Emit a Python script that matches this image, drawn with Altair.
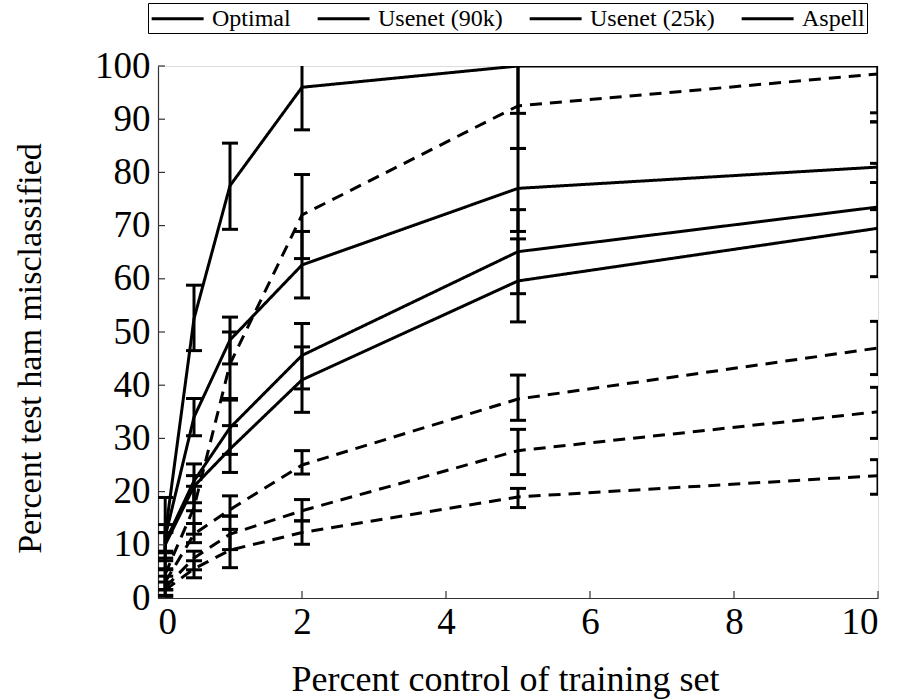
import altair as alt
import pandas as pd

# ---- data ----
XS = [0.1, 0.5, 1, 2, 5, 10]
NAMES = ["Optimal", "Usenet (90k)", "Usenet (25k)", "Aspell"]

# solid series (mean, low, high)
opt_s = [12, 52.5, 77.5, 96, 100, 100]
opt_s_lo = [5.5, 46.5, 69.3, 88, 91.1, 91.2]
opt_s_hi = [18.9, 58.8, 85.5, 104, 109, 109]

u90_s = [11.5, 34, 48.5, 62.6, 77, 81]
u90_s_lo = [8.8, 30.5, 44, 56.4, 68.9, 73]
u90_s_hi = [13.8, 37.5, 52.8, 68.9, 84.5, 89.5]

u25_s = [10.5, 22, 32, 45.6, 65.1, 73.5]
u25_s_lo = [8.5, 17.9, 27, 39.3, 57.2, 65.1]
u25_s_hi = [12.3, 25.2, 37.2, 51.6, 73, 81.7]

asp_s = [10, 21, 28, 41, 59.6, 69.5]
asp_s_lo = [7.5, 16.4, 23.6, 34.9, 51.9, 60.4]
asp_s_hi = [12.3, 23, 32.4, 47.2, 67.5, 78.1]

# dashed series
opt_d = [4.5, 17, 44, 72, 92.5, 98.5]
opt_d_lo = [1.6, 12, 37.5, 63.8, 84.5, 89.5]
opt_d_hi = [7, 21, 50, 79.6, 100.5, 107.5]

u90_d = [3, 12, 16.6, 25, 37.4, 47]
u90_d_lo = [1.5, 10.4, 15.4, 23.3, 33.4, 42]
u90_d_hi = [5.3, 14, 19.2, 27.7, 41.9, 52]

u25_d = [2, 7.5, 12, 16.4, 27.7, 35]
u25_d_lo = [0.5, 5.3, 9.1, 14.5, 23.2, 30]
u25_d_hi = [4.1, 8.8, 15.4, 18.5, 31.7, 39.6]

asp_d = [1.5, 5.5, 9, 12.3, 19, 23]
asp_d_lo = [0.3, 3.8, 5.7, 10.1, 17, 19.5]
asp_d_hi = [3, 7, 12.9, 14.5, 20.6, 26]

Y_TICKS = [0, 10, 20, 30, 40, 50, 60, 70, 80, 90, 100]
X_LABELS = [0, 2, 4, 6, 8, 10]
X_TICKS = [2, 4, 6, 8, 10]

series = [
    ("Optimal", "solid", opt_s, opt_s_lo, opt_s_hi),
    ("Usenet (90k)", "solid", u90_s, u90_s_lo, u90_s_hi),
    ("Usenet (25k)", "solid", u25_s, u25_s_lo, u25_s_hi),
    ("Aspell", "solid", asp_s, asp_s_lo, asp_s_hi),
    ("Optimal", "dashed", opt_d, opt_d_lo, opt_d_hi),
    ("Usenet (90k)", "dashed", u90_d, u90_d_lo, u90_d_hi),
    ("Usenet (25k)", "dashed", u25_d, u25_d_lo, u25_d_hi),
    ("Aspell", "dashed", asp_d, asp_d_lo, asp_d_hi),
]

rows = []
for name, style, m, lo, hi in series:
    for x, a, b, c in zip(XS, m, lo, hi):
        rows.append({"dict": name, "style": style, "x": x, "y": a, "lo": b, "hi": c})
df = pd.DataFrame(rows)

FONT = "Liberation Serif, Times New Roman, Times, serif"
W, H = 720, 532

xscale = alt.Scale(domain=[0, 10], nice=False, zero=True)
yscale = alt.Scale(domain=[0, 100], nice=False)

base = alt.Chart(df)

lines = base.mark_line(strokeWidth=3, clip=True).encode(
    x=alt.X("x:Q", scale=xscale,
            axis=alt.Axis(values=X_LABELS, format="d", tickSize=0, grid=False,
                          domainColor="#333", domainWidth=1.2,
                          labelFont=FONT, labelFontSize=37, labelColor="black",
                          labelPadding=6,
                          title="Percent control of training set",
                          titleFont=FONT, titleFontSize=36, titleFontWeight="normal",
                          titleColor="black", titleX=W / 2 - 13, titleY=81,
                          titleBaseline="middle")),
    y=alt.Y("y:Q", scale=yscale,
            axis=alt.Axis(values=Y_TICKS, format="d", tickSize=0, grid=False,
                          domainColor="#333", domainWidth=1.2,
                          labelFont=FONT, labelFontSize=37, labelColor="black",
                          labelPadding=8,
                          title="Percent test ham misclassified",
                          titleFont=FONT, titleFontSize=34, titleFontWeight="normal",
                          titleColor="black", titleX=-128, titleY=H / 2 + 16,
                          titleAngle=-90, titleAlign="center",
                          titleBaseline="middle")),
    color=alt.Color("dict:N",
                    scale=alt.Scale(domain=NAMES, range=["black"] * 4),
                    legend=alt.Legend(title=None, orient="none", legendX=-10, legendY=-63,
                                      direction="horizontal", symbolType="M-1,0L3.39,0",
                                      symbolStrokeWidth=3, symbolSize=560,
                                      labelFont=FONT, labelFontSize=24, labelColor="black",
                                      strokeColor="black", padding=2,
                                      columnPadding=20, labelOffset=35)),
    strokeDash=alt.StrokeDash("style:N",
                              scale=alt.Scale(domain=["solid", "dashed"],
                                              range=[[1, 0], [12, 8]]),
                              legend=None),
)

bars = base.mark_rule(strokeWidth=3, color="black", clip=True).encode(
    x="x:Q", y="lo:Q", y2="hi:Q"
)
caps_lo = base.mark_tick(orient="horizontal", size=16, thickness=3,
                         color="black", clip=True, opacity=1).encode(x="x:Q", y="lo:Q")
caps_hi = base.mark_tick(orient="horizontal", size=16, thickness=3,
                         color="black", clip=True, opacity=1).encode(x="x:Q", y="hi:Q")

ytick_df = pd.DataFrame({"v": Y_TICKS})
xtick_df = pd.DataFrame({"v": X_TICKS})
yticks = alt.Chart(ytick_df).mark_rule(color="#333", strokeWidth=1.2).encode(
    y=alt.Y("v:Q", scale=yscale), x=alt.value(0), x2=alt.value(7))
xticks = alt.Chart(xtick_df).mark_rule(color="#333", strokeWidth=1.2).encode(
    x=alt.X("v:Q", scale=xscale), y=alt.value(H), y2=alt.value(H - 7))

chart = alt.layer(lines, bars, caps_lo, caps_hi, yticks, xticks).properties(
    width=W, height=H,
    autosize=alt.AutoSizeParams(type="none"),
    padding={"left": 158, "top": 66, "right": 20, "bottom": 102},
).configure_view(stroke=None).configure(background="white")

chart.save("out.html", embed_options={"renderer": "svg", "actions": False})
